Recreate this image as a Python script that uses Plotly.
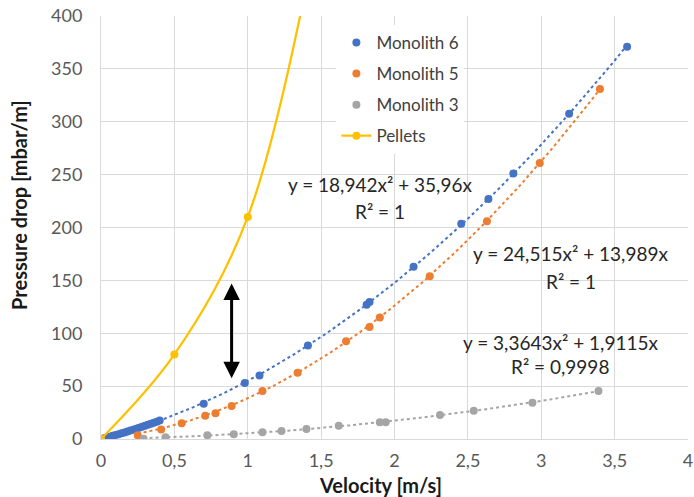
import numpy as np
import plotly.graph_objects as go

# ---- data ----
v_m6 = [0.02, 0.04, 0.06, 0.08, 0.10, 0.12, 0.14, 0.16, 0.18, 0.20, 0.22, 0.24,
        0.26, 0.28, 0.30, 0.32, 0.34, 0.36, 0.38, 0.40,
        0.70, 0.98, 1.08, 1.41, 1.81, 1.83, 2.13, 2.455, 2.64, 2.81, 3.19, 3.585]
p_m6 = [0.7, 1.5, 2.2, 3.0, 3.8, 4.6, 5.4, 6.2, 7.1, 8.0, 8.8, 9.7,
        10.6, 11.6, 12.5, 13.4, 14.4, 15.4, 16.4, 17.4,
        33.4, 53.0, 60.0, 88.5, 127.0, 129.5, 163.0, 203.5, 227.0, 251.0, 307.5, 371.0]

v_m5 = [0.25, 0.41, 0.55, 0.71, 0.78, 0.89, 1.10, 1.34, 1.67, 1.83, 1.90, 2.24, 2.63, 2.99, 3.40]
p_m5 = [3.5, 9.1, 14.8, 22.0, 24.3, 31.2, 45.4, 62.7, 92.5, 106.0, 115.0, 154.0, 206.0, 261.0, 331.0]

v_m3 = [0.29, 0.44, 0.725, 0.905, 1.10, 1.23, 1.40, 1.62, 1.90, 1.94, 2.31, 2.54, 2.94, 3.39]
p_m3 = [0.3, 1.6, 3.5, 4.4, 6.3, 7.6, 9.5, 12.6, 15.8, 15.9, 22.7, 26.8, 34.3, 45.4]

v_pel = [0.0, 0.5, 1.0, 1.5]
p_pel = [0.0, 80.0, 210.0, 500.0]

# trendline coefficients shown on the chart (a*x^2 + b*x)
fit_m6 = [18.942, 35.96]
fit_m5 = [24.515, 13.989]
fit_m3 = [3.3643, 1.9115]

eq_m6 = ["y = 18,942x² + 35,96x", "R² = 1"]
eq_m5 = ["y = 24,515x² + 13,989x", "R² = 1"]
eq_m3 = ["y = 3,3643x² + 1,9115x", "R² = 0,9998"]

x_ticks = [0, 0.5, 1, 1.5, 2, 2.5, 3, 3.5, 4]
x_ticktext = ["0", "0,5", "1", "1,5", "2", "2,5", "3", "3,5", "4"]
y_ticks = [0, 50, 100, 150, 200, 250, 300, 350, 400]

C6, C5, C3, CP = "#4472C4", "#ED7D31", "#A5A5A5", "#FFC000"
FONT = "Lato"

fig = go.Figure()


def trend(vs, coef, color):
    xs = np.linspace(0 if vs[0] < 0.05 else min(vs), max(vs), 200)
    ys = coef[0] * xs ** 2 + coef[1] * xs
    fig.add_trace(go.Scatter(x=xs, y=ys, mode="lines", showlegend=False,
                             line=dict(color=color, width=2, dash="dot"),
                             hoverinfo="skip"))


trend([0.0] + v_m6, fit_m6, C6)
trend(v_m5, fit_m5, C5)
trend(v_m3, fit_m3, C3)

fig.add_trace(go.Scatter(x=v_m6, y=p_m6, mode="markers", name="Monolith 6",
                         legendgroup="a", marker=dict(color=C6, size=8)))
fig.add_trace(go.Scatter(x=v_m5, y=p_m5, mode="markers", name="Monolith 5",
                         legendgroup="b", marker=dict(color=C5, size=8)))
fig.add_trace(go.Scatter(x=v_m3, y=p_m3, mode="markers", name="Monolith 3",
                         legendgroup="c", marker=dict(color=C3, size=8)))
fig.add_trace(go.Scatter(x=v_pel, y=p_pel, mode="lines+markers", name="Pellets",
                         legendgroup="d",
                         line=dict(color=CP, width=2.25, shape="spline", smoothing=1),
                         marker=dict(color=CP, size=8)))

ann = []
for (txt, xc, y1, y2) in [(eq_m6, 1.90, 240.2, 215.6),
                          (eq_m5, 3.20, 175.0, 149.4),
                          (eq_m3, 3.13, 91.7, 68.1)]:
    ann.append(dict(x=xc, y=y1, xref="x", yref="y", text=txt[0], showarrow=False,
                    xanchor="center", yanchor="middle",
                    font=dict(family=FONT, size=19, color="#262626")))
    ann.append(dict(x=xc, y=y2, xref="x", yref="y", text=txt[1], showarrow=False,
                    xanchor="center", yanchor="middle",
                    font=dict(family=FONT, size=19, color="#262626")))

# double-headed arrow
ann.append(dict(x=0.89, y=147, ax=0.89, ay=56, xref="x", yref="y", axref="x", ayref="y",
                text="", showarrow=True, arrowside="end+start", arrowhead=2,
                arrowsize=1.1, arrowwidth=3, arrowcolor="black"))

# axis titles
ann.append(dict(x=-0.140, y=0.553, xref="paper", yref="paper", textangle=-90,
                xanchor="center", yanchor="middle",
                text="<b>Pressure drop [mbar/m]</b>", showarrow=False,
                font=dict(family=FONT, size=20, color="#1a1a1a")))
ann.append(dict(x=0.476, y=-0.108, xref="paper", yref="paper",
                xanchor="center", yanchor="middle",
                text="<b>Velocity [m/s]</b>", showarrow=False,
                font=dict(family=FONT, size=20, color="#1a1a1a")))

fig.update_layout(
    width=694, height=497,
    margin=dict(l=101, r=1, t=16, b=58),
    paper_bgcolor="white", plot_bgcolor="white",
    font=dict(family=FONT, size=18, color="#595959"),
    annotations=ann,
    legend=dict(x=0.401, y=0.979, xanchor="left", yanchor="top",
                bgcolor="white", font=dict(family=FONT, size=17, color="#404040"),
                tracegroupgap=6),
    showlegend=True,
)
fig.update_xaxes(range=[0, 4], tickvals=x_ticks, ticktext=x_ticktext,
                 showgrid=True, gridcolor="#d9d9d9", gridwidth=1,
                 zeroline=False, showline=True, linecolor="#d9d9d9",
                 ticks="", ticklabelstandoff=5, ticklabeloverflow="allow",
                 tickfont=dict(family=FONT, size=18, color="#595959"))
fig.update_yaxes(range=[0, 400], tickvals=y_ticks,
                 showgrid=True, gridcolor="#d9d9d9", gridwidth=1,
                 zeroline=False, showline=True, linecolor="#d9d9d9",
                 ticks="", ticklabelstandoff=14,
                 tickfont=dict(family=FONT, size=18, color="#595959"))

fig.write_html("out.html")
